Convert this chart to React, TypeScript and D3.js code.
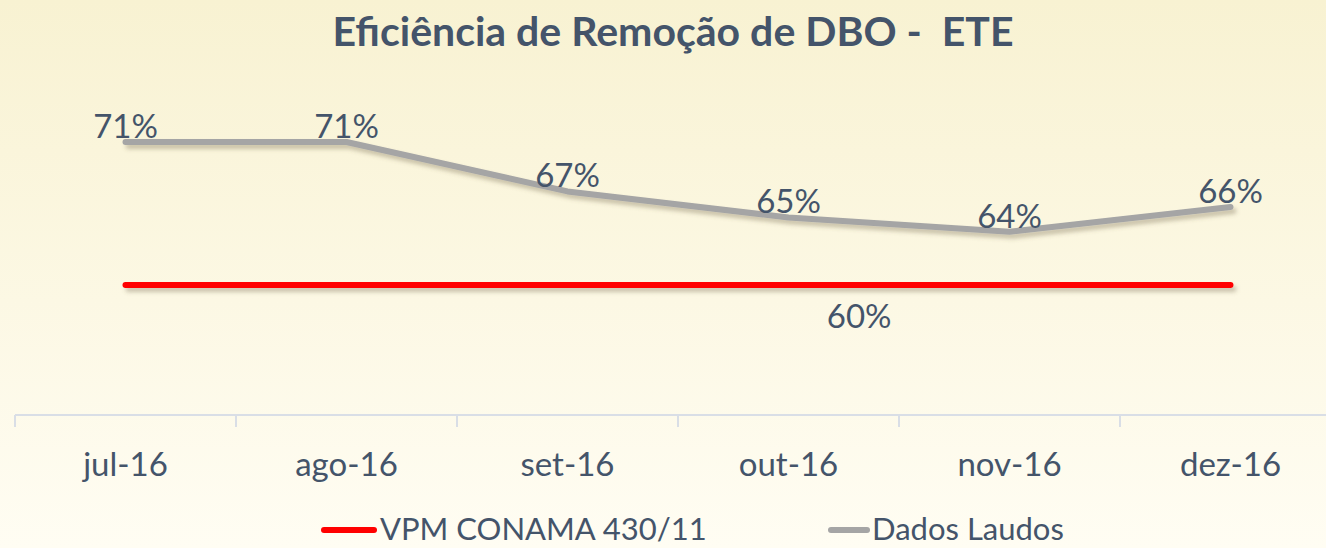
import React from "react";
import * as d3 from "d3";

const months = ["jul-16", "ago-16", "set-16", "out-16", "nov-16", "dez-16"];
const dadosLaudos = [71.0, 71.0, 67.2, 65.2, 64.1, 66.0];
const vpmConama = [60, 60, 60, 60, 60, 60];
const gridTop = 80;
const gridBottom = 50;

const W = 1326;
const H = 548;
const textColor = "#44546A";
const font = "Lato, 'Open Sans', sans-serif";

const App = () => {
  const x = d3.scaleBand().domain(months).range([15, 15 + 221 * 6]).padding(0);
  const cx = (m: string) => (x(m) as number) + x.bandwidth() / 2;
  const y = d3.scaleLinear().domain([gridBottom, gridTop]).range([415, 25]);

  const line = d3
    .line<number>()
    .x((_, i) => cx(months[i]))
    .y((d) => y(d));

  // ticks sit on the category boundaries
  const tickXs = months.map((m) => x(m) as number);

  return (
    <svg
      width={W}
      height={H}
      style={{ position: "absolute", left: 0, top: 0, display: "block" }}
    >
      <defs>
        <linearGradient id="bg" x1="0" y1="0" x2="0" y2="1">
          <stop offset="0%" stopColor="#F8F2D2" />
          <stop offset="55%" stopColor="#FCF8E4" />
          <stop offset="100%" stopColor="#FFFDF3" />
        </linearGradient>
        <filter id="shadow" filterUnits="userSpaceOnUse" x={0} y={0} width={W} height={H}>
          <feDropShadow dx="3" dy="4" stdDeviation="2.2" floodColor="#6b6040" floodOpacity="0.35" />
        </filter>
      </defs>
      <rect x={0} y={0} width={W} height={H} fill="url(#bg)" />

      <text
        x={W / 2 + 10}
        y={46}
        textAnchor="middle"
        fontFamily={font}
        fontWeight="bold"
        fontSize={41}
        fill={textColor}
        style={{ whiteSpace: "pre" }}
      >
        {"Eficiência de Remoção de DBO -  ETE"}
      </text>

      {/* category axis */}
      <line x1={15} x2={W} y1={y(gridBottom)} y2={y(gridBottom)} stroke="#D9DEE6" strokeWidth={2} />
      {tickXs.map((tx, i) => (
        <line key={i} x1={tx} x2={tx} y1={y(gridBottom)} y2={y(gridBottom) + 12} stroke="#D9DEE6" strokeWidth={2} />
      ))}
      {months.map((m) => (
        <text
          key={m}
          x={cx(m)}
          y={476}
          textAnchor="middle"
          fontFamily={font}
          fontSize={33}
          fill={textColor}
        >
          {m}
        </text>
      ))}

      {/* series */}
      <path
        d={line(vpmConama) as string}
        fill="none"
        stroke="#FF0000"
        strokeWidth={6}
        strokeLinecap="round"
        filter="url(#shadow)"
      />
      <path
        d={line(dadosLaudos) as string}
        fill="none"
        stroke="#A5A5A5"
        strokeWidth={6}
        strokeLinecap="round"
        strokeLinejoin="round"
        filter="url(#shadow)"
      />

      {dadosLaudos.map((v, i) => (
        <text
          key={i}
          x={cx(months[i])}
          y={y(v) - 4}
          textAnchor="middle"
          fontFamily={font}
          fontSize={33}
          fill={textColor}
        >
          {`${Math.round(v)}%`}
        </text>
      ))}
      <text
        x={cx(months[3]) + x.bandwidth() * 0.32}
        y={y(vpmConama[3]) + 43}
        textAnchor="middle"
        fontFamily={font}
        fontSize={33}
        fill={textColor}
      >
        {`${vpmConama[3]}%`}
      </text>

      {/* legend */}
      <g fontFamily={font} fontSize={31} fill={textColor}>
        <line x1={324} x2={374} y1={530} y2={530} stroke="#FF0000" strokeWidth={6} strokeLinecap="round" />
        <text x={380} y={540}>VPM CONAMA 430/11</text>
        <line x1={831} x2={867} y1={530} y2={530} stroke="#A5A5A5" strokeWidth={6} strokeLinecap="round" />
        <text x={872} y={540}>Dados Laudos</text>
      </g>
    </svg>
  );
};

export default App;
